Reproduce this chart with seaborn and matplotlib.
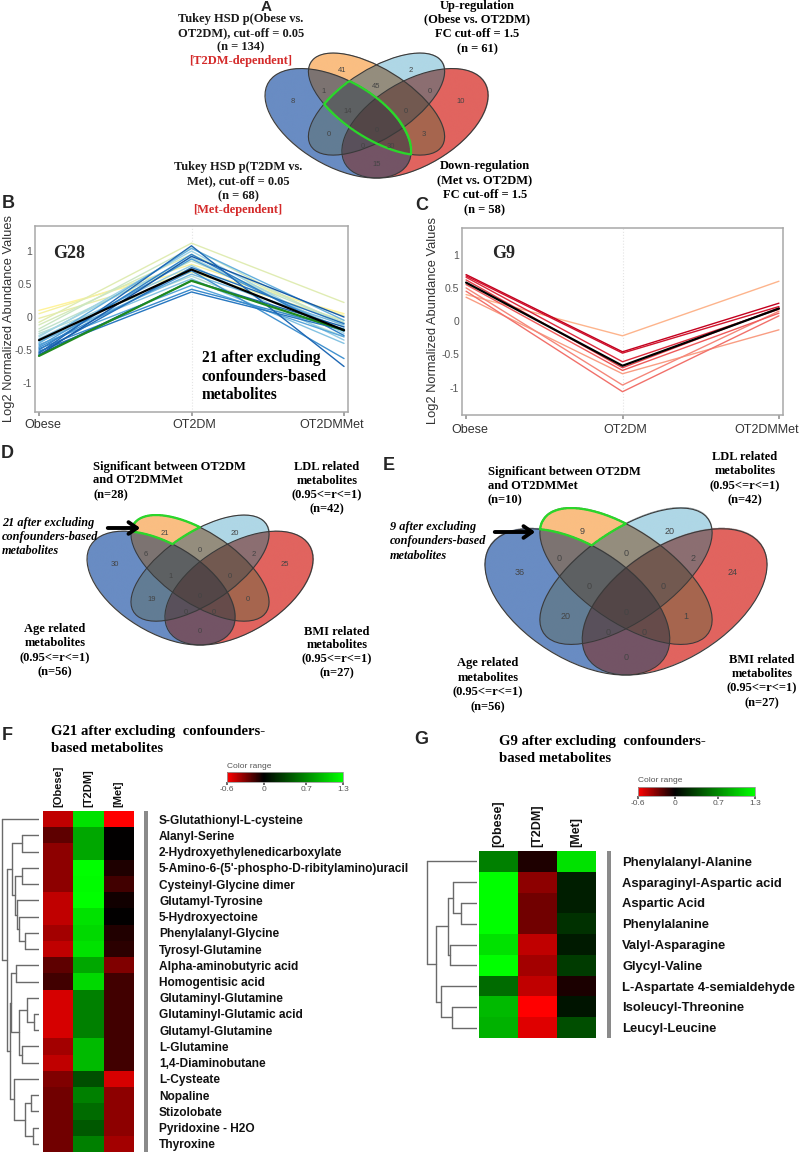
import numpy as np
import pandas as pd
import matplotlib
matplotlib.use("Agg")
import matplotlib.pyplot as plt
import matplotlib.cm as cm
import seaborn as sns
from matplotlib.patches import Ellipse
from matplotlib.colors import LinearSegmentedColormap, Normalize
from matplotlib.transforms import ScaledTranslation

W, H = 799, 1170

# ---------------- data ----------------
groups = ["Obese", "OT2DM", "OT2DMMet"]

# G28 profiles, ordered yellow -> dark blue
g28_obese = [0.10, 0.05, -0.02, -0.08, -0.12, -0.18, -0.22, -0.25, -0.28, -0.30, -0.33, -0.36,
             -0.38, -0.40, -0.42, -0.44, -0.46, -0.48, -0.50, -0.52, -0.54, -0.55, -0.57, -0.58]
g28_ot2dm = [0.72, 0.80, 0.68, 1.12, 0.95, 1.05, 0.85, 0.62, 0.90, 1.00, 0.78, 0.58,
             0.65, 1.04, 0.48, 0.88, 0.70, 0.42, 0.95, 0.38, 0.75, 1.08, 0.55, 0.92]
g28_met = [0.05, 0.02, -0.05, 0.22, -0.10, -0.15, -0.08, -0.30, -0.20, -0.25, -0.35, -0.40,
           -0.12, -0.05, -0.30, -0.22, -0.63, -0.18, -0.28, -0.20, -0.10, -0.75, -0.15, 0.00]
g28_mean = [-0.35, 0.72, -0.20]
g28_green = [-0.59, 0.55, -0.20]

# G9 profiles, ordered light orange -> dark red
g9_obese = [0.40, 0.36, 0.50, 0.45, 0.55, 0.62, 0.66, 0.68, 0.70]
g9_ot2dm = [-0.22, -0.79, -0.96, -1.06, -0.74, -0.70, -0.61, -0.48, -0.46]
g9_met = [0.60, -0.13, 0.15, 0.08, 0.12, 0.20, 0.18, 0.22, 0.27]
g9_mean = [0.58, -0.67, 0.19]

# venn regions: B=lower-left, O=upper-left, L=upper-right, R=lower-right ellipse
venn_regions = ["O", "L", "B", "R", "BO", "OL", "LR", "BOL", "OLR", "BL", "BOLR", "OR", "BLR", "BOR", "BR"]
venn_a_counts = [41, 2, 8, 10, 1, 45, 0, 14, 0, 0, 0, 3, 0, 30, 15]
venn_d_counts = [21, 20, 30, 25, 6, 0, 2, 1, 0, 19, 0, 0, 0, 0, 0]
venn_e_counts = [9, 20, 36, 24, 0, 0, 2, 0, 0, 20, 0, 1, 0, 0, 0]

heat_cols = ["[Obese]", "[T2DM]", "[Met]"]
f_rows = ["S-Glutathionyl-L-cysteine", "Alanyl-Serine", "2-Hydroxyethylenedicarboxylate",
          "5-Amino-6-(5'-phospho-D-ribitylamino)uracil", "Cysteinyl-Glycine dimer",
          "Glutamyl-Tyrosine", "5-Hydroxyectoine", "Phenylalanyl-Glycine", "Tyrosyl-Glutamine",
          "Alpha-aminobutyric acid", "Homogentisic acid", "Glutaminyl-Glutamine",
          "Glutaminyl-Glutamic acid", "Glutamyl-Glutamine", "L-Glutamine", "1,4-Diaminobutane",
          "L-Cysteate", "Nopaline", "Stizolobate", "Pyridoxine - H2O", "Thyroxine"]
f_obese = [-0.45, -0.22, -0.33, -0.33, -0.33, -0.45, -0.45, -0.38, -0.45, -0.22, -0.15,
           -0.50, -0.50, -0.50, -0.38, -0.45, -0.30, -0.26, -0.26, -0.26, -0.26]
f_t2dm = [1.15, 0.85, 0.85, 1.30, 1.28, 1.30, 1.15, 1.10, 1.15, 0.85, 1.10,
          0.65, 0.65, 0.65, 0.95, 0.95, 0.40, 0.65, 0.55, 0.45, 0.65]
f_met = [-0.60, 0.00, 0.00, -0.07, -0.15, -0.04, 0.00, -0.08, -0.10, -0.30, -0.15,
         -0.15, -0.15, -0.15, -0.15, -0.15, -0.50, -0.33, -0.33, -0.33, -0.38]
# dendrogram merges (left, right, height); ids >= n are earlier merges
f_merges = [(1, 2, 53), (3, 4, 53), (7, 8, 43), (6, 23, 61), (5, 24, 68), (22, 25, 72),
            (21, 26, 82), (9, 10, 70), (12, 13, 15), (11, 29, 38), (14, 15, 53), (30, 31, 61),
            (28, 32, 85), (17, 18, 26), (19, 20, 18), (34, 35, 44), (16, 36, 76), (33, 37, 88),
            (27, 38, 96), (0, 39, 113)]

g_rows = ["Phenylalanyl-Alanine", "Asparaginyl-Aspartic acid", "Aspartic Acid", "Phenylalanine",
          "Valyl-Asparagine", "Glycyl-Valine", "L-Aspartate 4-semialdehyde",
          "Isoleucyl-Threonine", "Leucyl-Leucine"]
g_obese = [0.65, 1.30, 1.30, 1.30, 1.15, 1.30, 0.55, 0.95, 0.90]
g_t2dm = [-0.07, -0.33, -0.26, -0.26, -0.45, -0.38, -0.45, -0.60, -0.52]
g_met = [1.15, 0.15, 0.15, 0.25, 0.13, 0.30, -0.06, 0.10, 0.40]
g_merges = [(2, 3, 16), (1, 9, 24), (4, 5, 27), (10, 11, 29), (7, 8, 25), (6, 13, 36),
            (12, 14, 41), (0, 15, 50)]

cbar_ticks = [-0.6, 0, 0.7, 1.3]

# ---------------- style ----------------
sns.set_theme(style="white")
plt.rcParams['font.family'] = ['Liberation Sans', 'DejaVu Sans']
SERIF = ['Liberation Serif', 'DejaVu Serif']
SB = dict(family=SERIF, fontweight="bold", fontsize=9)
HEAT_CMAP = LinearSegmentedColormap.from_list(
    "rgk", [(0, "#ff0000"), (0.6 / 1.9, "#000000"), (1, "#00ff00")])

fig = plt.figure(figsize=(W / 100, H / 100), dpi=100)


def px_axes(x0, y0, x1, y1):
    return fig.add_axes([x0 / W, 1 - y1 / H, (x1 - x0) / W, (y1 - y0) / H])


# ---------------- venn ----------------
ELL = {"B": (0.35, 0.47, 0.35, 0.20, -45), "O": (0.50, 0.57, 0.34, 0.16, -45),
       "L": (0.50, 0.57, 0.34, 0.16, 45), "R": (0.65, 0.47, 0.35, 0.20, 45)}
TINT = {"B": (105, 140, 195), "O": (250, 190, 130), "L": (175, 215, 230), "R": (225, 100, 95)}
DARKEN = np.array([1.0, 1.0, 0.70, 0.53, 0.44])
REGION_XY = [(0.365, 0.745), (0.635, 0.745), (0.172, 0.586), (0.828, 0.586), (0.293, 0.638),
             (0.5, 0.659), (0.707, 0.638), (0.387, 0.529), (0.613, 0.529), (0.315, 0.414),
             (0.5, 0.43), (0.685, 0.414), (0.445, 0.35), (0.555, 0.35), (0.5, 0.253)]


def inside(key, X, Y):
    cx, cy, a, b, ang = ELL[key]
    t = np.deg2rad(ang)
    dx, dy = X - cx, Y - cy
    u = dx * np.cos(t) + dy * np.sin(t)
    v = -dx * np.sin(t) + dy * np.cos(t)
    return (u / a) ** 2 + (v / b) ** 2 <= 1


def draw_venn(l, t, r, b, counts, outline, fs):
    sx, sy = (r - l) / 0.87, (b - t) / 0.651
    ax = px_axes(l - 0.005 * sx, t - 0.004 * sy, r + 0.005 * sx, b + 0.005 * sy)
    xs = np.linspace(0.06, 0.94, 700)
    ys = np.linspace(0.18, 0.84, 520)
    X, Y = np.meshgrid(xs, ys)
    m = {k: inside(k, X, Y) for k in "BOLR"}
    k_count = sum(m[k].astype(int) for k in "BOLR")
    rgb = np.zeros(X.shape + (3,))
    for k in "BOLR":
        rgb += m[k][..., None] * np.array(TINT[k]) / 255
    rgb /= np.maximum(k_count, 1)[..., None]
    rgb *= DARKEN[k_count][..., None]
    img = np.dstack([rgb, (k_count > 0).astype(float)])
    ax.imshow(img, extent=(xs[0], xs[-1], ys[0], ys[-1]), origin="lower",
              aspect="auto", interpolation="bilinear")
    for k in "BOLR":
        cx, cy, a, bb, ang = ELL[k]
        ax.add_patch(Ellipse((cx, cy), 2 * a, 2 * bb, angle=ang, fill=False,
                             ec="#3a3a3a", lw=0.8))
    ax.contour(X, Y, outline(m).astype(float), levels=[0.5], colors="#2bd62b", linewidths=1.6)
    for (x, y), c in zip(REGION_XY, counts):
        ax.text(x, y, str(c), ha="center", va="center", fontsize=fs, color="#444")
    ax.set_xlim(0.06, 0.94)
    ax.set_ylim(0.18, 0.84)
    ax.axis("off")


draw_venn(265, 53, 488, 178, venn_a_counts,
          lambda m: m["B"] & m["O"] & (m["L"] | m["R"]), 5.5)
only_o = lambda m: m["O"] & ~m["B"] & ~m["L"] & ~m["R"]
draw_venn(87, 515, 313, 645, venn_d_counts, only_o, 5.5)
draw_venn(485, 508, 767, 675, venn_e_counts, only_o, 6.5)


# ---------------- profile plots ----------------
def profile_df(obese, ot2dm, met):
    n = len(obese)
    return pd.DataFrame({
        "series": np.repeat([f"s{i:02d}" for i in range(n)], 3),
        "x": np.tile(np.arange(len(groups)), n),
        "value": np.column_stack([obese, ot2dm, met]).ravel(),
    })


def profile_axes(box, df, pal, extra, name, name_xy, pad, ylims):
    ax = px_axes(*box)
    ax.axvline(1, color="#e4e4e4", lw=0.8, ls=":", zorder=0)
    sns.lineplot(data=df, x="x", y="value", hue="series", palette=pal, legend=False,
                 estimator=None, sort=False, lw=1.0, ax=ax)
    for vals, col in extra:
        sns.lineplot(x=np.arange(len(groups)), y=vals, color=col, lw=1.6, ax=ax)
    ax.set_xlim(-0.026, 2.026)
    ax.set_ylim(*ylims)
    ax.set_xticks(np.arange(len(groups)))
    ax.set_xticklabels(groups, fontsize=9, color="#333")
    ax.set_yticks([-1, -0.5, 0, 0.5, 1])
    ax.set_yticklabels(["-1", "-0.5", "0", "0.5", "1"], fontsize=7.5, color="#555")
    ax.tick_params(axis="x", length=3, color="#999", pad=pad, bottom=True)
    ax.tick_params(axis="y", length=0, pad=2)
    for lbl, dx in zip(ax.get_xticklabels(), [4, 3, -12]):
        lbl.set_transform(lbl.get_transform() + ScaledTranslation(dx / 100, 0, fig.dpi_scale_trans))
    ax.set_xlabel("")
    ax.set_ylabel("")
    for s in ax.spines.values():
        s.set_color("#a8a8a8")
        s.set_linewidth(1.1)
    ax.text(name_xy[0], name_xy[1], name, transform=ax.transAxes, ha="left", va="center",
            family=SERIF, fontweight="bold", fontsize=13)
    return ax


g28_pal = sns.blend_palette(["#fff39a", "#cfe8c0", "#9fd3e6", "#5aa8dc", "#2a7cc4", "#1659a8"],
                            len(g28_obese))
profile_axes((35, 226, 348, 412), profile_df(g28_obese, g28_ot2dm, g28_met), g28_pal,
             [(g28_green, "#1f8a1f"), (g28_mean, "black")], "G28", (0.058, 0.85), 2,
             (-1.44, 1.38))

g9_pal = sns.blend_palette(["#fdb48c", "#f5877a", "#ee5a5a", "#dc2a3c", "#c4001e"], len(g9_obese))
profile_axes((462, 228, 783, 415), profile_df(g9_obese, g9_ot2dm, g9_met), g9_pal,
             [(g9_mean, "black")], "G9", (0.093, 0.866), 3.5, (-1.41, 1.40))


# ---------------- heatmaps ----------------
def draw_dendro(box, merges, n, hmax):
    ax = px_axes(*box)
    pos = {i: i + 0.5 for i in range(n)}
    hgt = {i: 0.0 for i in range(n)}
    for k, (a, b, h) in enumerate(merges):
        for c in (a, b):
            ax.plot([hgt[c], h], [pos[c], pos[c]], color="#6a6a6a", lw=1.0)
        ax.plot([h, h], [pos[a], pos[b]], color="#6a6a6a", lw=1.0)
        pos[n + k] = (pos[a] + pos[b]) / 2
        hgt[n + k] = h
    ax.set_xlim(hmax, 0)
    ax.set_ylim(n, 0)
    ax.axis("off")


def draw_heat(box, rows, obese, t2dm, met, colfs, rowfs, pad):
    ax = px_axes(*box)
    df = pd.DataFrame({c: v for c, v in zip(heat_cols, [obese, t2dm, met])}, index=rows)
    sns.heatmap(df, ax=ax, cmap=HEAT_CMAP, vmin=-0.6, vmax=1.3, cbar=False,
                xticklabels=True, yticklabels=True)
    ax.xaxis.tick_top()
    ax.yaxis.tick_right()
    ax.tick_params(axis="x", length=0, pad=3)
    ax.tick_params(axis="y", length=0, pad=pad)
    plt.setp(ax.get_xticklabels(), rotation=90, fontsize=colfs, fontweight="bold", color="#111")
    plt.setp(ax.get_yticklabels(), rotation=0, fontsize=rowfs, fontweight="bold", color="#111",
             ha="left")
    ax.set_xlabel("")
    ax.set_ylabel("")
    return ax


def draw_bar(box):
    ax = px_axes(*box)
    ax.set_facecolor("#8a8a8a")
    ax.set_xticks([])
    ax.set_yticks([])
    for s in ax.spines.values():
        s.set_visible(False)


def draw_cbar(box):
    cax = px_axes(*box)
    sm = cm.ScalarMappable(norm=Normalize(-0.6, 1.3), cmap=HEAT_CMAP)
    cb = fig.colorbar(sm, cax=cax, orientation="horizontal", ticks=cbar_ticks)
    cb.ax.set_xticklabels(["-0.6", "0", "0.7", "1.3"])
    cb.ax.tick_params(labelsize=6, length=2, pad=1, colors="#555")
    cb.outline.set_edgecolor("#999")
    cb.outline.set_linewidth(0.6)


draw_dendro((0, 811, 39.3, 1152), f_merges, len(f_rows), 118)
draw_heat((43, 811, 134, 1152), f_rows, f_obese, f_t2dm, f_met, 8, 8.6, 18)
draw_bar((144, 811, 148, 1152))
draw_cbar((227, 772, 343, 782))

draw_dendro((420, 851, 477, 1038), g_merges, len(g_rows), 57)
draw_heat((479, 851, 596, 1038), g_rows, g_obese, g_t2dm, g_met, 9, 9.4, 19)
draw_bar((607, 851, 611, 1038))
draw_cbar((638, 787, 755, 796))

# ---------------- overlay texts ----------------
ov = fig.add_axes([0, 0, 1, 1], zorder=10)
ov.set_xlim(0, W)
ov.set_ylim(H, 0)
ov.axis("off")


def block(x, ys, lines, ha="center", colors=None, **kw):
    for i, (y, s) in enumerate(zip(ys, lines)):
        c = colors[i] if colors else "black"
        ov.text(x, y, s, ha=ha, va="center", color=c, **kw)


RED = "#d42a2a"
PL = dict(fontsize=13, fontweight="bold")
for letter, (x, y) in zip("BCDEFG", [(8, 204), (422, 205), (7, 454), (389, 466),
                                     (7, 736), (421, 740)]):
    ov.text(x, y, letter, ha="center", va="center", **PL)
ov.text(266, 7, "A", ha="center", va="center", fontsize=11, fontweight="bold")

block(241, [19, 33, 47, 61], ["Tukey HSD p(Obese vs.", "OT2DM), cut-off = 0.05", "(n = 134)",
                              "[T2DM-dependent]"], colors=["k", "k", "k", RED], **SB)
block(477, [5.5, 19, 34, 49], ["Up-regulation", "(Obese vs. OT2DM)", "FC cut-off = 1.5",
                               "(n = 61)"], **SB)
block(238, [167, 181, 196, 210], ["Tukey HSD p(T2DM vs.", "Met), cut-off = 0.05", "(n = 68)",
                                  "[Met-dependent]"], colors=["k", "k", "k", RED], **SB)
block(485, [166, 181, 195, 210], ["Down-regulation", "(Met vs. OT2DM)", "FC cut-off = 1.5",
                                  "(n = 58)"], **SB)

ylab = "Log2 Normalized Abundance Values"
ov.text(9, 319, ylab, rotation=90, ha="center", va="center", fontsize=9.3, color="#333")
ov.text(433, 321, ylab, rotation=90, ha="center", va="center", fontsize=9.3, color="#333")
block(202, [358, 377, 395], ["21 after excluding", "confounders-based", "metabolites"],
      ha="left", family=SERIF, fontweight="bold", fontsize=11.2)

SBI = dict(family=SERIF, fontweight="bold", fontstyle="italic", fontsize=8.8)
ARROW = dict(arrowstyle="->, head_length=0.5, head_width=0.35", lw=2.8, color="black")

block(93, [467, 480, 495], ["Significant between OT2DM", "and OT2DMMet", "(n=28)"], ha="left", **SB)
block(327, [467, 481, 495, 509], ["LDL related", "metabolites", "(0.95<=r<=1)", "(n=42)"], **SB)
block(2, [523, 537, 551], ["21 after excluding", "confounders-based", "metabolites"], ha="left", **SBI)
ov.annotate("", xy=(143, 528), xytext=(105, 528), arrowprops=ARROW)
block(55, [629, 643, 658, 672], ["Age related", "metabolites", "(0.95<=r<=1)", "(n=56)"], **SB)
block(337, [632, 645, 659, 673], ["BMI related", "metabolites", "(0.95<=r<=1)", "(n=27)"], **SB)

block(488, [472, 486, 500], ["Significant between OT2DM", "and OT2DMMet", "(n=10)"], ha="left", **SB)
block(745, [457, 471, 486, 500], ["LDL related", "metabolites", "(0.95<=r<=1)", "(n=42)"], **SB)
block(390, [527, 541, 556], ["9 after excluding", "confounders-based", "metabolites"], ha="left", **SBI)
ov.annotate("", xy=(538, 532), xytext=(492, 532), arrowprops=ARROW)
block(488, [663, 678, 692, 707], ["Age related", "metabolites", "(0.95<=r<=1)", "(n=56)"], **SB)
block(762, [660, 674, 688, 703], ["BMI related", "metabolites", "(0.95<=r<=1)", "(n=27)"], **SB)

block(51, [732, 749], ["G21 after excluding  confounders-", "based metabolites"], ha="left",
      family=SERIF, fontweight="bold", fontsize=10.6)
block(499, [742, 759], ["G9 after excluding  confounders-", "based metabolites"], ha="left",
      family=SERIF, fontweight="bold", fontsize=10.6)
ov.text(227, 766, "Color range", ha="left", va="center", fontsize=6, color="#555")
ov.text(638, 781, "Color range", ha="left", va="center", fontsize=6, color="#555")

fig.savefig("out.png", dpi=100)
